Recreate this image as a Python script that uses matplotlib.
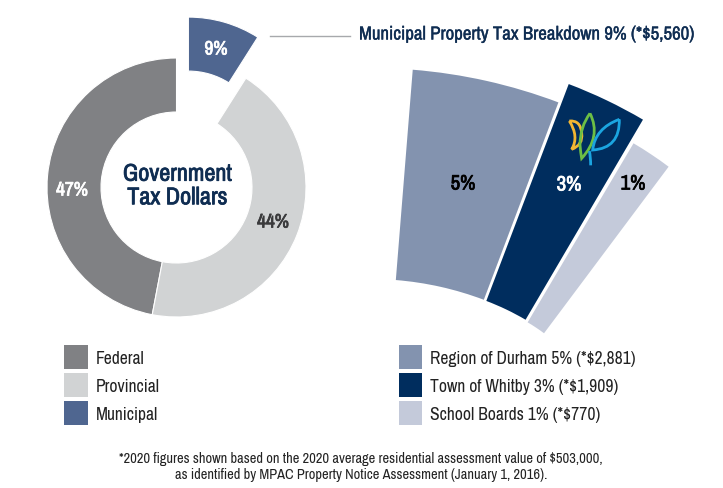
import matplotlib
matplotlib.use('Agg')
import matplotlib.pyplot as plt
import matplotlib.patheffects as pe
from matplotlib.patches import Wedge, Rectangle, PathPatch
from matplotlib.path import Path

# shares of the tax dollar
gov_labels = ['Federal', 'Provincial', 'Municipal']
gov_values = [47, 44, 9]
gov_pct = ['47%', '44%', '9%']
gov_colors = ['#808184', '#D1D3D4', '#4F6690']

# municipal breakdown, sweep is the slice angle in degrees
muni_labels = ['Region of Durham 5% (*$2,881)', 'Town of Whitby 3% (*$1,909)', 'School Boards 1% (*$770)']
muni_pct = ['5%', '3%', '1%']
muni_sweep = [16.1, 9.6, 6.2]
muni_colors = ['#8393AF', '#002D5E', '#C4CADA']

W, H = 723, 488
FONT = ['Archivo Narrow', 'Roboto Condensed', 'Liberation Sans', 'DejaVu Sans']
NAVY = '#0F2D52'

plt.rcParams['font.family'] = FONT
plt.set_loglevel('error')

fig = plt.figure(figsize=(W / 100, H / 100), dpi=100)
ax = fig.add_axes([0, 0, 1, 1])


def Y(py):
    return H - py


# the narrow font has no bold cut here, so thicken it with a stroke
def bold_text(x, y, s, color, size, stroke=0.55, **kw):
    t = ax.text(x, Y(y), s, color=color, fontsize=size, ha=kw.pop('ha', 'center'), va='center', **kw)
    t.set_path_effects([pe.withStroke(linewidth=stroke, foreground=color)])
    return t


ax.pie(gov_values, colors=gov_colors, startangle=90, radius=129.5, center=(176.5, Y(187.5)),
       explode=[0, 0, 42.6], frame=True,
       wedgeprops=dict(width=54, edgecolor='white', linewidth=0.8))
ax.set_xlim(0, W)
ax.set_ylim(0, H)
ax.set_aspect('equal')
ax.axis('off')

bold_text(177.5, 186, 'Government\nTax Dollars', NAVY, 17.4, linespacing=1.15)
bold_text(72, 190, gov_pct[0], 'white', 14)
bold_text(273, 222, gov_pct[1], '#3A3A3C', 14)
bold_text(216, 49, gov_pct[2], 'white', 14)

ax.plot([270, 350], [Y(35.5), Y(35.5)], color='#A7A9AC', lw=1)
bold_text(359, 34.5, 'Municipal Property Tax Breakdown 9% (*$5,560)', NAVY, 13.55, stroke=0.25, ha='left')

# each slice of the fan has its own centre and radii in the original
fan_centers = [(370, 601), (394, 544), (435, 479)]
fan_outer = [533, 492, 390]
fan_inner = [322, 260, 182]
fan_start = [85.4, 69.2, 59.4]
for i in range(3):
    cx, cy = fan_centers[i]
    ax.add_patch(Wedge((cx, Y(cy)), fan_outer[i], fan_start[i] - muni_sweep[i], fan_start[i],
                       width=fan_outer[i] - fan_inner[i], facecolor=muni_colors[i], edgecolor='none'))

bold_text(463, 184, muni_pct[0], 'black', 15)
bold_text(569, 185, muni_pct[1], 'white', 15)
bold_text(633, 184, muni_pct[2], 'black', 15)


# logo leaves, outlined
def leaf(points, color):
    verts = [(540 + x / 3, Y(90 + y / 3)) for x, y in points]
    codes = [Path.MOVETO] + [Path.CURVE3] * (len(verts) - 1)
    ax.add_patch(PathPatch(Path(verts, codes), facecolor='none', edgecolor=color, lw=2))


leaf([(88, 93), (122, 90), (125, 130), (130, 165), (95, 178), (118, 140), (88, 93)], '#F2B632')
leaf([(150, 70), (120, 110), (120, 165), (122, 190), (125, 205), (185, 140), (150, 70)], '#6CBE45')
leaf([(238, 88), (165, 115), (158, 180), (240, 175), (238, 88)], '#1BA5E0')
leaf([(148, 183), (152, 200), (152, 226)], '#1BA5E0')

# legends
swatch_y = [345, 373, 401]
for i in range(3):
    ax.add_patch(Rectangle((64, Y(swatch_y[i] + 24)), 24, 24, facecolor=gov_colors[i], edgecolor='none'))
    ax.text(96, Y(swatch_y[i] + 14), gov_labels[i], color='#222222', fontsize=12.6, ha='left', va='center')
    ax.add_patch(Rectangle((399, Y(swatch_y[i] + 24)), 23, 24, facecolor=muni_colors[i], edgecolor='none'))
    ax.text(430, Y(swatch_y[i] + 14), muni_labels[i], color='#222222', fontsize=12.6, ha='left', va='center')

ax.text(361, Y(467), '*2020 figures shown based on the 2020 average residential assessment value of $503,000,\n'
        'as identified by MPAC Property Notice Assessment (January 1, 2016).',
        color='#222222', fontsize=10.4, ha='center', va='center', linespacing=1.2)

fig.savefig('out.png', dpi=100)
